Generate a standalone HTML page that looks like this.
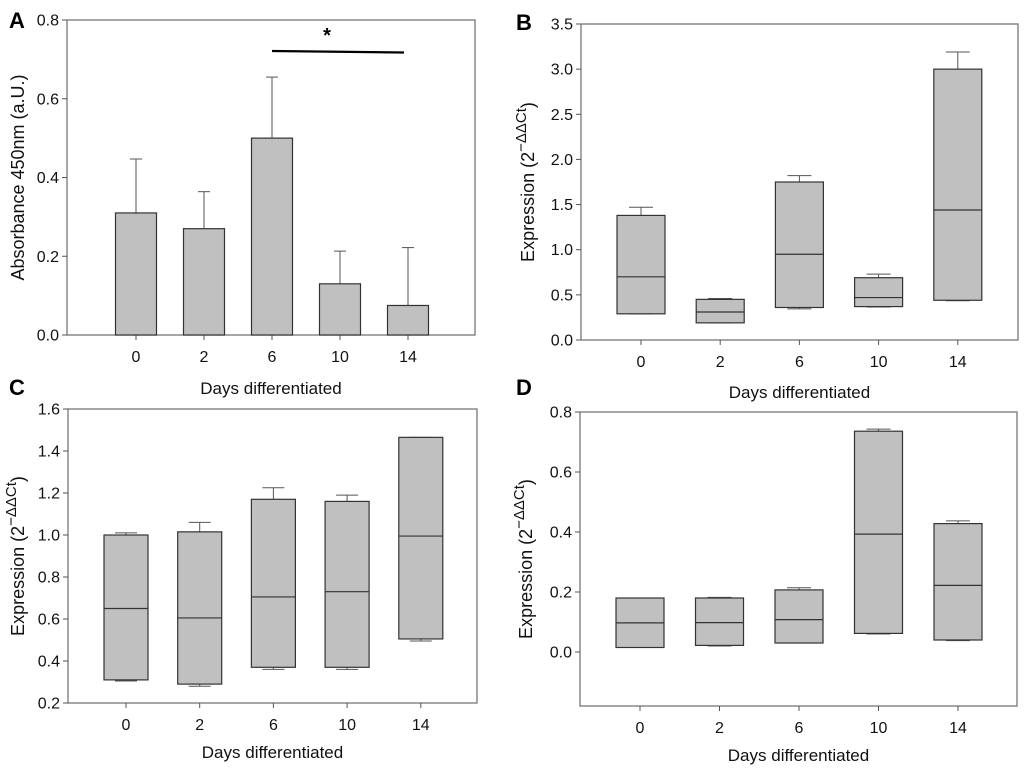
<!DOCTYPE html>
<html><head><meta charset="utf-8"><style>
body{margin:0;background:#fff;}
svg{display:block;font-family:"Liberation Sans",Arial,sans-serif;}
</style></head><body>
<svg id="fig" width="1024" height="769" viewBox="0 0 1024 769"></svg>
<script>
const categories = ["0","2","6","10","14"];
// Panel A bar chart
const aMeans = [0.31, 0.27, 0.50, 0.13, 0.075];
const aErrTop = [0.447, 0.364, 0.655, 0.213, 0.222];
const aTicks = [0.0, 0.2, 0.4, 0.6, 0.8];
// Panel B boxes
const bLow = [0.29, 0.19, 0.36, 0.37, 0.44];
const bMed = [0.70, 0.31, 0.95, 0.47, 1.44];
const bHigh = [1.38, 0.45, 1.75, 0.69, 3.0];
const bWhiskTop = [1.47, 0.46, 1.82, 0.73, 3.19];
const bWhiskBot = [0.29, 0.19, 0.345, 0.365, 0.435];
const bTicks = [0.0,0.5,1.0,1.5,2.0,2.5,3.0,3.5];
// Panel C boxes
const cLow = [0.31, 0.29, 0.37, 0.37, 0.505];
const cMed = [0.65, 0.605, 0.705, 0.73, 0.995];
const cHigh = [1.0, 1.015, 1.17, 1.16, 1.465];
const cWhiskTop = [1.01, 1.06, 1.225, 1.19, 1.465];
const cWhiskBot = [0.305, 0.28, 0.36, 0.36, 0.495];
const cTicks = [0.2,0.4,0.6,0.8,1.0,1.2,1.4,1.6];
// Panel D boxes
const dLow = [0.015, 0.022, 0.03, 0.062, 0.04];
const dMed = [0.097, 0.098, 0.108, 0.393, 0.222];
const dHigh = [0.18, 0.18, 0.207, 0.736, 0.428];
const dWhiskTop = [0.18, 0.182, 0.214, 0.743, 0.437];
const dWhiskBot = [0.015, 0.02, 0.03, 0.06, 0.038];
const dTicks = [0.0,0.2,0.4,0.6,0.8];

const NS="http://www.w3.org/2000/svg";
const svg=document.getElementById('fig');
function mk(tag,attrs,parent){const e=document.createElementNS(NS,tag);for(const k in attrs)e.setAttribute(k,attrs[k]);(parent||svg).appendChild(e);return e;}
function txt(x,y,s,attrs,parent){const t=mk('text',Object.assign({x:x,y:y},attrs||{}),parent);t.textContent=s;return t;}

function panel(cfg){
  const g=mk('g',{});
  
  
  const y=v=>cfg.bottom-(v-cfg.ymin)/(cfg.ymax-cfg.ymin)*(cfg.bottom-cfg.top);
  const x=i=>cfg.x0+i*cfg.dx;
  const frame=mk('rect',{x:cfg.left,y:cfg.top,width:cfg.right-cfg.left,height:cfg.bottom-cfg.top,fill:'none',stroke:'#777','stroke-width':1.3},g);
  
  
  cfg.ticks.forEach(v=>{
    mk('line',{x1:cfg.left-5,x2:cfg.left,y1:y(v),y2:y(v),stroke:'#555'},g);
    const t=txt(cfg.left-8,y(v)+5.5,v.toFixed(1),{'text-anchor':'end','font-size':16,fill:'#111'},g);
    
    
  });
  categories.forEach((c,i)=>{
    mk('line',{x1:x(i),x2:x(i),y1:cfg.bottom,y2:cfg.bottom+5,stroke:'#555'},g);
    const t=txt(x(i),cfg.bottom+27,c,{'text-anchor':'middle','font-size':16,fill:'#111'},g);
    
    
  });
  const hw=cfg.bw/2;
  if(cfg.type==='bar'){
    cfg.means.forEach((m,i)=>{
      mk('line',{x1:x(i),x2:x(i),y1:y(m),y2:y(cfg.err[i]),stroke:'#555'},g);
      mk('line',{x1:x(i)-6,x2:x(i)+6,y1:y(cfg.err[i]),y2:y(cfg.err[i]),stroke:'#555'},g);
      const r=mk('rect',{x:x(i)-hw,y:y(m),width:cfg.bw,height:y(0)-y(m),fill:'#c0c0c0',stroke:'#333','stroke-width':1.2},g);
      
      
    });
  } else {
    cfg.low.forEach((lo,i)=>{
      mk('line',{x1:x(i),x2:x(i),y1:y(cfg.high[i]),y2:y(cfg.wt[i]),stroke:'#555'},g);
      mk('line',{x1:x(i)-hw/2,x2:x(i)+hw/2,y1:y(cfg.wt[i]),y2:y(cfg.wt[i]),stroke:'#555'},g);
      mk('line',{x1:x(i),x2:x(i),y1:y(lo),y2:y(cfg.wb[i]),stroke:'#555'},g);
      mk('line',{x1:x(i)-hw/2,x2:x(i)+hw/2,y1:y(cfg.wb[i]),y2:y(cfg.wb[i]),stroke:'#555'},g);
      const r=mk('rect',{x:x(i)-hw,y:y(cfg.high[i]),width:cfg.bw,height:y(lo)-y(cfg.high[i]),fill:'#c0c0c0',stroke:'#333','stroke-width':1.2},g);
      
      
      const md=mk('line',{x1:x(i)-hw,x2:x(i)+hw,y1:y(cfg.med[i]),y2:y(cfg.med[i]),stroke:'#333','stroke-width':1.2},g);
      
      
    });
  }
  const xl=txt((cfg.left+cfg.right)/2,cfg.xlabY,'Days differentiated',{'text-anchor':'middle','font-size':17,fill:'#111'},g);
  
  
  const yl=mk('text',{transform:'translate('+cfg.ylabX+','+((cfg.top+cfg.bottom)/2)+') rotate(-90)','text-anchor':'middle','font-size':18,fill:'#111'},g);
  if(cfg.type==='bar'){yl.textContent='Absorbance 450nm (a.U.)';}
  else{yl.innerHTML='Expression (2<tspan dy="-8" font-size="15">\u2212\u0394\u0394Ct</tspan><tspan dy="8">)</tspan>';}
  
  
  const L=txt(cfg.letX,cfg.letY,cfg.id,{'font-size':22,'font-weight':'bold',fill:'#000'},g);
  
  
  return {g,x,y};
}

const A=panel({id:'A',type:'bar',left:67,right:475,top:20,bottom:335,ymin:0,ymax:0.8,x0:136,dx:68,bw:41,ticks:aTicks,means:aMeans,err:aErrTop,xlabY:394,ylabX:24,letX:9,letY:28});
const sig=mk('line',{x1:A.x(2),x2:A.x(4)-4,y1:51,y2:52.5,stroke:'#000','stroke-width':2.2},A.g);


const star=txt(327,42,'*',{'text-anchor':'middle','font-size':20,'font-weight':'bold'},A.g);



panel({id:'B',type:'box',left:581,right:1018,top:24,bottom:340,ymin:0,ymax:3.5,x0:641,dx:79.2,bw:48,ticks:bTicks,low:bLow,med:bMed,high:bHigh,wt:bWhiskTop,wb:bWhiskBot,xlabY:398,ylabX:534,letX:516,letY:30});
panel({id:'C',type:'box',left:68,right:477,top:409,bottom:703,ymin:0.2,ymax:1.6,x0:126,dx:73.7,bw:44,ticks:cTicks,low:cLow,med:cMed,high:cHigh,wt:cWhiskTop,wb:cWhiskBot,xlabY:758,ylabX:24,letX:9,letY:395});
panel({id:'D',type:'box',left:580,right:1017,top:412,bottom:706,ymin:-0.18,ymax:0.8,x0:640,dx:79.5,bw:48,ticks:dTicks,low:dLow,med:dMed,high:dHigh,wt:dWhiskTop,wb:dWhiskBot,xlabY:761,ylabX:532,letX:516,letY:395});
</script>
</body></html>
